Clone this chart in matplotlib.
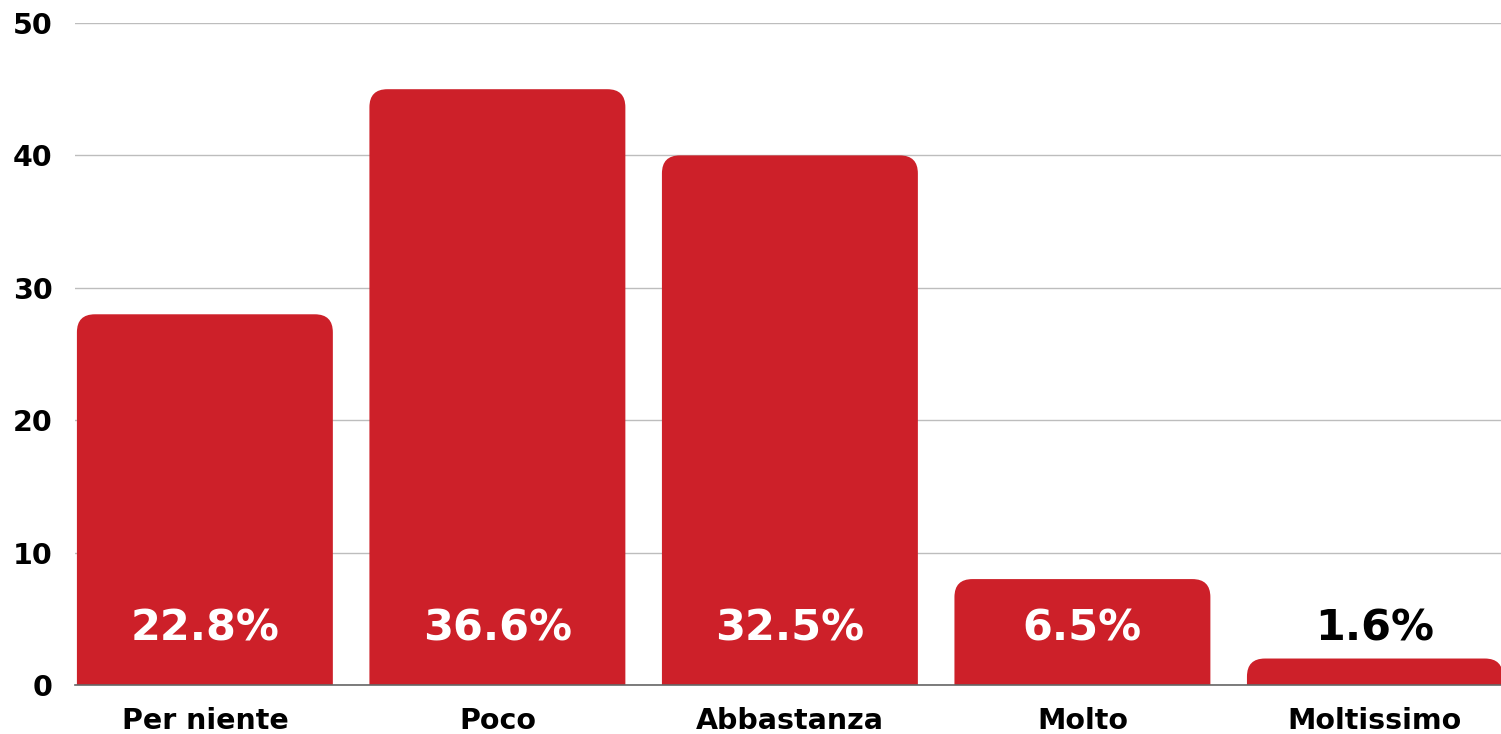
import matplotlib
matplotlib.use('Agg')
import matplotlib.pyplot as plt
from matplotlib.patches import FancyBboxPatch

plt.rcParams['font.family'] = ['DejaVu Sans']
plt.rcParams['font.weight'] = 'bold'

# dati
categories = ['Per niente', 'Poco', 'Abbastanza', 'Molto', 'Moltissimo']
counts = [28, 45, 40, 8, 2]
percents = ['22.8%', '36.6%', '32.5%', '6.5%', '1.6%']
label_colors = ['white', 'white', 'white', 'white', 'black']
yticks = [0, 10, 20, 30, 40, 50]

RED = '#cd2029'
BAR_W = 0.875
RADIUS_PX = 18

W, H = 1501, 734
fig = plt.figure(figsize=(W/100, H/100), dpi=100)
ax_l, ax_b = 75/W, 1-685/H
ax_w, ax_h = 1426/W, 662/H
ax = fig.add_axes([ax_l, ax_b, ax_w, ax_h])

xlim = (-0.444, 4.431)
ylim = (0, 50)
ax.set_xlim(*xlim); ax.set_ylim(*ylim)

# raggio in unita' dati
px_x = ax_w*W/(xlim[1]-xlim[0])
px_y = ax_h*H/(ylim[1]-ylim[0])
rx = RADIUS_PX/px_x
aspect = px_x/px_y

for i, v in enumerate(counts):
    x0 = i - BAR_W/2
    y0 = -3  # sotto lo zero per nascondere gli angoli inferiori
    p = FancyBboxPatch((x0, y0), BAR_W, v - y0,
                       boxstyle=f'round,pad=0,rounding_size={rx}',
                       mutation_aspect=aspect, fc=RED, ec='none', zorder=2)
    ax.add_patch(p)
    ax.text(i, 4.3, percents[i], ha='center', va='center', fontsize=31,
            fontweight='bold', color=label_colors[i], zorder=3)

ax.set_xticks(range(len(categories)))
ax.set_xticklabels(categories, fontsize=20.5, fontweight='bold')
ax.set_yticks(yticks)
ax.set_yticklabels([str(t) for t in yticks], fontsize=20.5, fontweight='bold')
ax.tick_params(axis='both', length=0)
ax.tick_params(axis='x', pad=16)
ax.tick_params(axis='y', pad=16)

ax.yaxis.grid(True, color='#bdbdbd', lw=1)
ax.set_axisbelow(True)
for s in ['top', 'right', 'left']:
    ax.spines[s].set_visible(False)
ax.spines['bottom'].set_color('#666666')
ax.spines['bottom'].set_linewidth(1.2)
ax.spines['bottom'].set_zorder(4)

plt.savefig('out.png', dpi=100)
